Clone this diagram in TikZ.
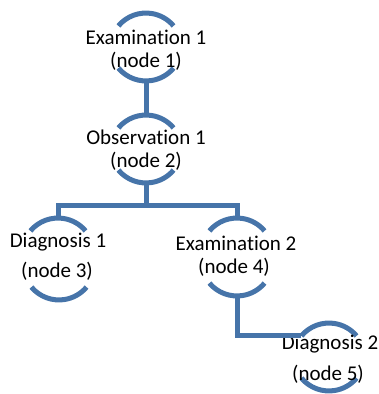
\documentclass[tikz,border=0pt]{standalone}
\usepackage{fontspec}
\setmainfont{Carlito}[Ligatures=NoCommon]

\definecolor{hierblue}{HTML}{4674A9}
\tikzset{
  ring/.style={draw=hierblue, line width=5pt},
  link/.style={draw=hierblue, line width=5pt},
  txt/.style={anchor=base, inner sep=0pt, font=\fontsize{21}{25}\selectfont}
}

\begin{document}
\begin{tikzpicture}[x=1pt,y=1pt]
    \useasboundingbox (0,0) rectangle (378,394);
    % tops and bottoms of the rings
    \coordinate (t1) at (146,381); \coordinate (b1) at (146,313);
    \coordinate (t2) at (146,279); \coordinate (b2) at (146,211);
    \coordinate (t3) at (58,176);  \coordinate (b3) at (59,94);
    \coordinate (t4) at (237,176); \coordinate (b4) at (237,98);
    \coordinate (t5) at (329,71);  \coordinate (b5) at (329,3);
    \coordinate (bar) at (146,188);
    \coordinate (e5) at (301.4,58.1);

    % rings
    \foreach \i in {1,...,5} {
      \draw[ring] (t\i) ++(-27.6,-12.9) arc (140:40:36);
      \draw[ring] (b\i) ++(-27.6,12.9) arc (220:320:36);
    }

    % texts
    \node[txt] (exam1) at (146,349) {Examination 1};
    \node[txt] (exam1n) at (146,326) {(node 1)};
    \node[txt] (obs1) at (146,249) {Observation 1};
    \node[txt] (obs1n) at (146,226) {(node 2)};
    \node[txt] (diag1) at (58,146) {Diagnosis 1};
    \node[txt] (diag1n) at (57,116) {(node 3)};
    \node[txt] (exam2) at (236,143) {Examination 2};
    \node[txt] (exam2n) at (234,120) {(node 4)};
    \node[txt] (diag2) at (330,45) {Diagnosis 2};
    \node[txt] (diag2n) at (328,13) {(node 5)};

    % links
    \draw[link] (b1) -- (t2);
    \draw[link] (b2) -- (bar);
    \draw[link] (t3) -- (t3 |- bar) -- (t4 |- bar) -- (t4);
    \draw[link] (b4) |- (e5);
\end{tikzpicture}
\end{document}
